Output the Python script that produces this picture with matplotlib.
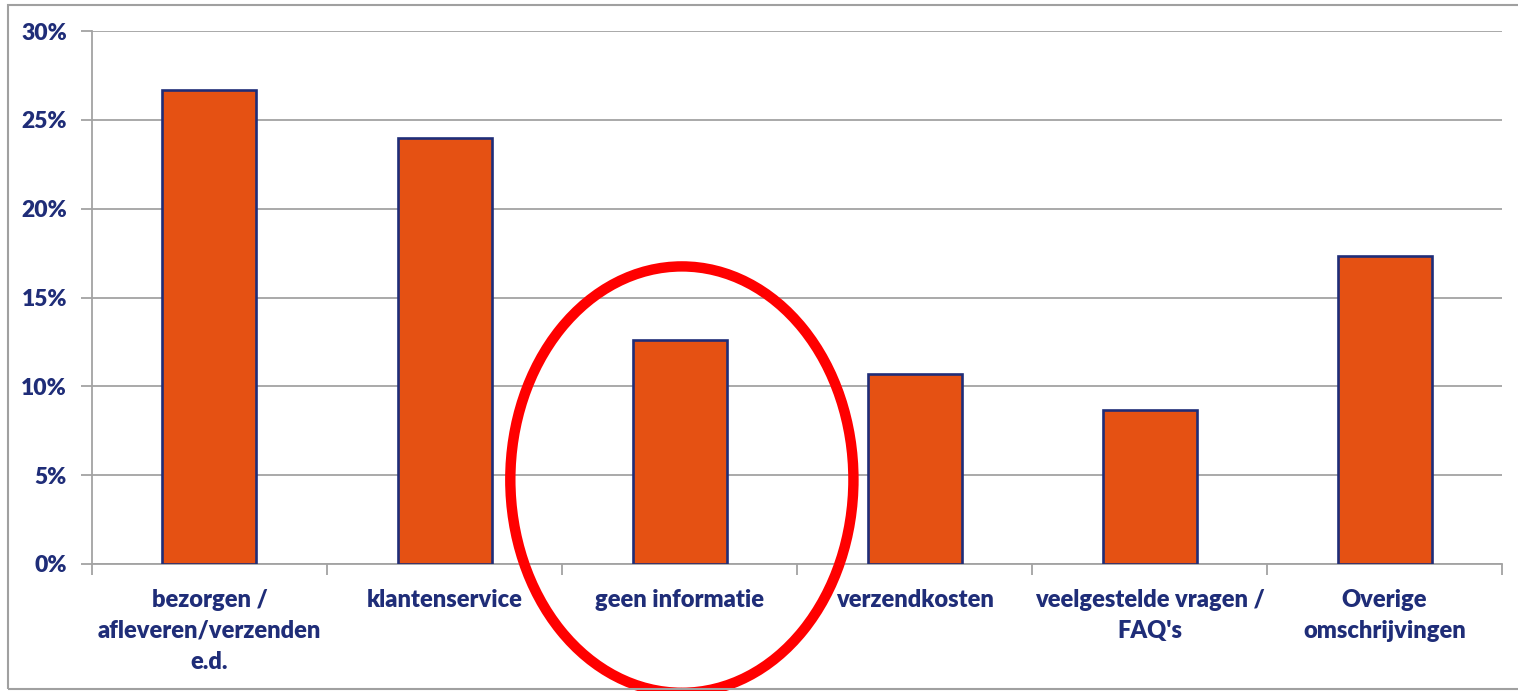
import matplotlib.pyplot as plt
from matplotlib.patches import Ellipse, Rectangle
from matplotlib.ticker import FuncFormatter, FixedLocator

categories = [
    "bezorgen /\nafleveren/verzenden\ne.d.",
    "klantenservice",
    "geen informatie",
    "verzendkosten",
    "veelgestelde vragen /\nFAQ's",
    "Overige\nomschrijvingen",
]
values = [26.7, 24.0, 12.6, 10.7, 8.65, 17.35]
y_ticks = [0, 5, 10, 15, 20, 25, 30]
highlight = 2  # "geen informatie"

navy = "#1F2D78"
orange = "#E55113"
grid_grey = "#A3A3A3"

plt.rcParams["font.family"] = ["Lato", "DejaVu Sans"]

fig = plt.figure(figsize=(15.18, 6.91), dpi=100)
ax = fig.add_axes([0.0606, 0.1838, 0.9289, 0.7713])

x = list(range(len(categories)))
ax.bar(x, values, width=0.4, color=orange, edgecolor=navy, linewidth=1.9, zorder=3)

ax.set_xlim(-0.5, len(categories) - 0.5)
ax.set_ylim(0, 30)
ax.set_yticks(y_ticks)
ax.yaxis.set_major_formatter(FuncFormatter(lambda v, _: f"{v:.0f}%"))
ax.grid(axis="y", color=grid_grey, linewidth=1.3, zorder=0)
ax.set_axisbelow(True)

ax.set_xticks(x)
ax.set_xticklabels(categories, fontsize=17, fontweight="heavy", color=navy, linespacing=1.5)
ax.tick_params(axis="x", which="major", length=0, pad=18)
ax.xaxis.set_minor_locator(FixedLocator([i + 0.5 for i in range(-1, len(categories))]))
ax.tick_params(axis="x", which="minor", length=8, width=1.3, color=grid_grey, direction="out")
ax.tick_params(axis="y", length=8, width=1.3, color=grid_grey, pad=10,
               labelsize=16.5, labelcolor=navy)
for lbl in ax.get_yticklabels():
    lbl.set_fontweight("heavy")

for side in ["top", "right"]:
    ax.spines[side].set_visible(False)
for side in ["left", "bottom"]:
    ax.spines[side].set_color(grid_grey)
    ax.spines[side].set_linewidth(1.3)

# red highlight ring around the "geen informatie" category
ring = Ellipse((highlight + 0.01, 4.75), width=1.46, height=24.0, fill=False,
               edgecolor="#FF0000", linewidth=7.5, clip_on=False, zorder=5)
ax.add_patch(ring)

# chart frame
fig.patches.append(Rectangle((8 / 1518, 2 / 691), 1.2, 684 / 691, transform=fig.transFigure,
                             fill=False, edgecolor="#A0A0A0", linewidth=1.5, zorder=0))

fig.savefig("out.png", dpi=100)
